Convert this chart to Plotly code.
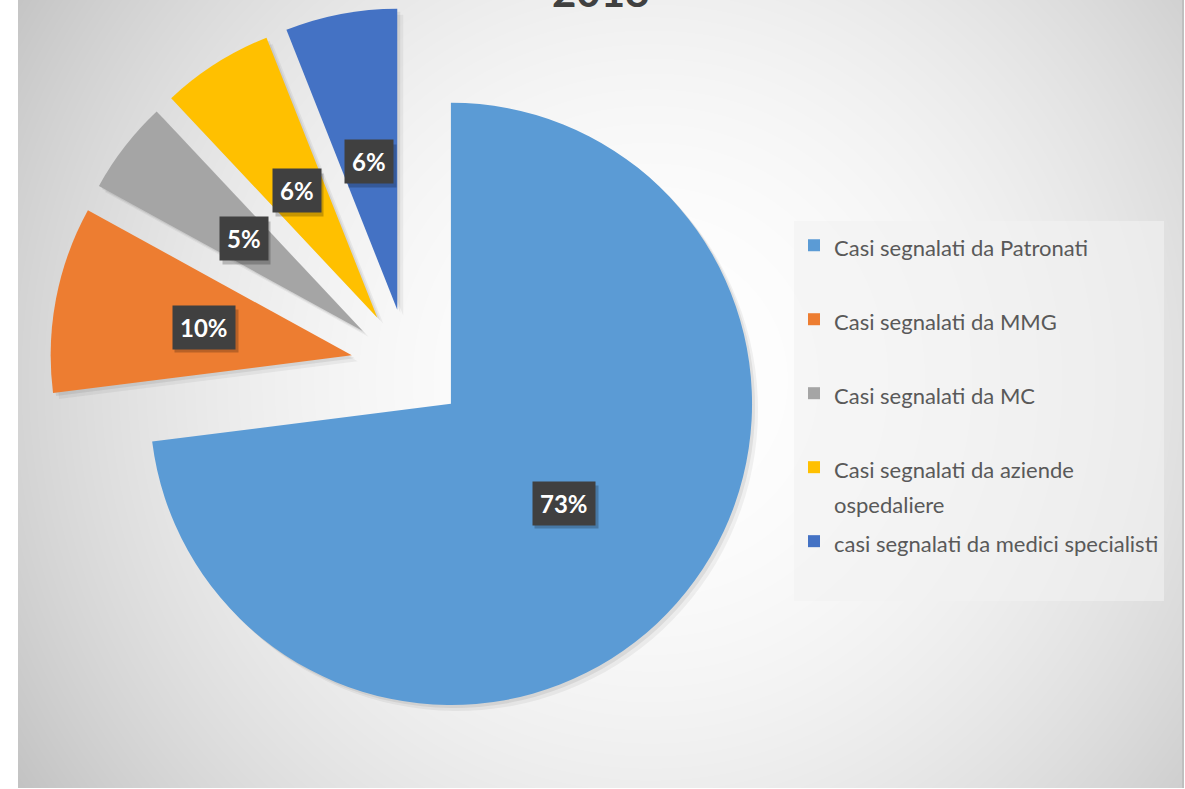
import base64
import struct
import zlib

import numpy as np
import plotly.graph_objects as go

# ---------------- data ----------------
title_text = "2018"
labels = [
    "Casi segnalati da Patronati",
    "Casi segnalati da MMG",
    "Casi segnalati da MC",
    "Casi segnalati da aziende ospedaliere",
    "casi segnalati da medici specialisti",
]
legend_lines = [
    ["Casi segnalati da Patronati"],
    ["Casi segnalati da MMG"],
    ["Casi segnalati da MC"],
    ["Casi segnalati da aziende", "ospedaliere"],
    ["casi segnalati da medici specialisti"],
]
values = [73, 10, 5, 6, 6]
colors = ["#5B9BD5", "#ED7D31", "#A5A5A5", "#FFC000", "#4472C4"]

# ---------------- layout constants ----------------
W, H = 1185, 789
PULL = 0.19
DOM_X = [0.0419, 0.6467]
DOM_Y = [0.0806, 0.9916]
FONT = "Lato"
TEXT_GREY = "#595959"
LEG_TEXT_PX = 22
LEG_LINE_FONT = 27.3
LABEL_FONT = 24


# ---------------- background (radial gradient as PNG) ----------------
def make_png(arr):
    h, w = arr.shape
    raw = b"".join(b"\x00" + arr[i].tobytes() for i in range(h))

    def chunk(tag, data):
        c = struct.pack(">I", len(data)) + tag + data
        return c + struct.pack(">I", zlib.crc32(tag + data) & 0xFFFFFFFF)

    ihdr = struct.pack(">IIBBBBB", w, h, 8, 0, 0, 0, 0)
    return (b"\x89PNG\r\n\x1a\n" + chunk(b"IHDR", ihdr)
            + chunk(b"IDAT", zlib.compress(raw, 9)) + chunk(b"IEND", b""))


bg_x0, bg_x1, bg_y0, bg_y1 = 18, 1183, 0, 788
gw, gh = bg_x1 - bg_x0, bg_y1 - bg_y0
yy, xx = np.mgrid[0:gh, 0:gw]
px = xx + bg_x0
py = yy + bg_y0
gcx, gcy = 650.0, 380.0
d = np.sqrt((px - gcx) ** 2 + (py - gcy) ** 2)
dmax = d.max()
val = 255.0 - 60.0 * (d / dmax) ** 2
grad = np.clip(val, 0, 255).astype(np.uint8)
bg_uri = "data:image/png;base64," + base64.b64encode(make_png(grad)).decode()

# ---------------- figure ----------------
fig = go.Figure()

# soft shadow of the pie
for off, alpha in [(6, 0.05), (3, 0.07)]:
    fig.add_trace(go.Pie(
        values=values,
        labels=labels,
        sort=False,
        direction="clockwise",
        rotation=0,
        pull=[PULL] * len(values),
        marker=dict(colors=[f"rgba(0,0,0,{alpha})"] * len(values), line=dict(width=0)),
        textinfo="none",
        hoverinfo="skip",
        showlegend=False,
        domain=dict(x=[DOM_X[0] + off / W, DOM_X[1] + off / W],
                    y=[DOM_Y[0] - off / H, DOM_Y[1] - off / H]),
    ))


def legend_label(lines):
    parts = [f'<span style="font-size:{LEG_TEXT_PX}px">{ln}</span>' for ln in lines]
    if len(parts) == 1:
        parts.append("\u00a0")
    return "<br>".join(parts)


fig.add_trace(go.Pie(
    values=values,
    labels=[legend_label(l) for l in legend_lines],
    sort=False,
    direction="clockwise",
    rotation=0,
    pull=[PULL] * len(values),
    marker=dict(colors=colors, line=dict(width=0)),
    textinfo="none",
    hovertext=labels,
    hovertemplate="%{hovertext}: %{value}%<extra></extra>",
    domain=dict(x=DOM_X, y=DOM_Y),
))

# ---------------- data labels (dark boxes) ----------------
box_w = W * (DOM_X[1] - DOM_X[0])
box_h = H * (DOM_Y[1] - DOM_Y[0])
r = min(box_w, box_h) / (2 * (1 + PULL))
cx = W * (DOM_X[0] + DOM_X[1]) / 2
cy = H * (1 - (DOM_Y[0] + DOM_Y[1]) / 2)
total = float(sum(values))
annotations = []
cum = 0.0
for v in values:
    mid = (cum + v / 2) / total * 2 * np.pi
    cum += v
    dist = (PULL + 0.5) * r
    lx = cx + dist * np.sin(mid)
    ly = cy - dist * np.cos(mid)
    pct = round(v / total * 100)
    txt = f"<b>{pct}%</b>"
    common = dict(x=lx / W, y=1 - ly / H, xref="paper", yref="paper",
                  xanchor="center", yanchor="middle",
                  showarrow=False, borderpad=7)
    # drop shadow box (blank, fixed size)
    sh = dict(common)
    sh.update(text="\u00a0", bgcolor="rgba(0,0,0,0.22)", xshift=3, yshift=-4,
              width=49 if pct >= 10 else 33, height=28,
              font=dict(family=FONT, size=LABEL_FONT, color="rgba(0,0,0,0)"))
    annotations.append(sh)
    main = dict(common)
    main.update(text=txt, bgcolor="#404040",
                font=dict(family=FONT, size=LABEL_FONT, color="white"))
    annotations.append(main)

# title (cut off at the top in the reference)
annotations.append(dict(
    text=f"<b>{title_text}</b>", x=600 / W, y=1, xref="paper", yref="paper",
    xanchor="center", yanchor="bottom", yshift=-18, showarrow=False,
    font=dict(family=FONT, size=42, color="#404040"),
))

fig.update_layout(
    width=W, height=H,
    margin=dict(l=0, r=0, t=0, b=0, autoexpand=False),
    paper_bgcolor="white",
    plot_bgcolor="white",
    font=dict(family=FONT, color=TEXT_GREY),
    images=[dict(source=bg_uri, xref="paper", yref="paper",
                 x=bg_x0 / W, y=1 - bg_y0 / H,
                 sizex=gw / W, sizey=gh / H,
                 xanchor="left", yanchor="top",
                 sizing="stretch", layer="below")],
    shapes=[dict(type="line", xref="paper", yref="paper",
                 x0=1183 / W, x1=1183 / W, y0=1 - 788 / H, y1=1,
                 line=dict(color="#bfbfbf", width=2))],
    legend=dict(
        x=794 / W, y=1 - 221 / H, xanchor="left", yanchor="top",
        bgcolor="rgba(242,242,242,0.6)",
        font=dict(family=FONT, size=LEG_LINE_FONT, color=TEXT_GREY),
        valign="top",
        traceorder="normal",
    ),
    annotations=annotations,
)

fig.write_html(
    "out.html",
    config={"displayModeBar": False},
    post_script="document.body.style.margin='0';document.body.style.overflow='hidden';",
)
